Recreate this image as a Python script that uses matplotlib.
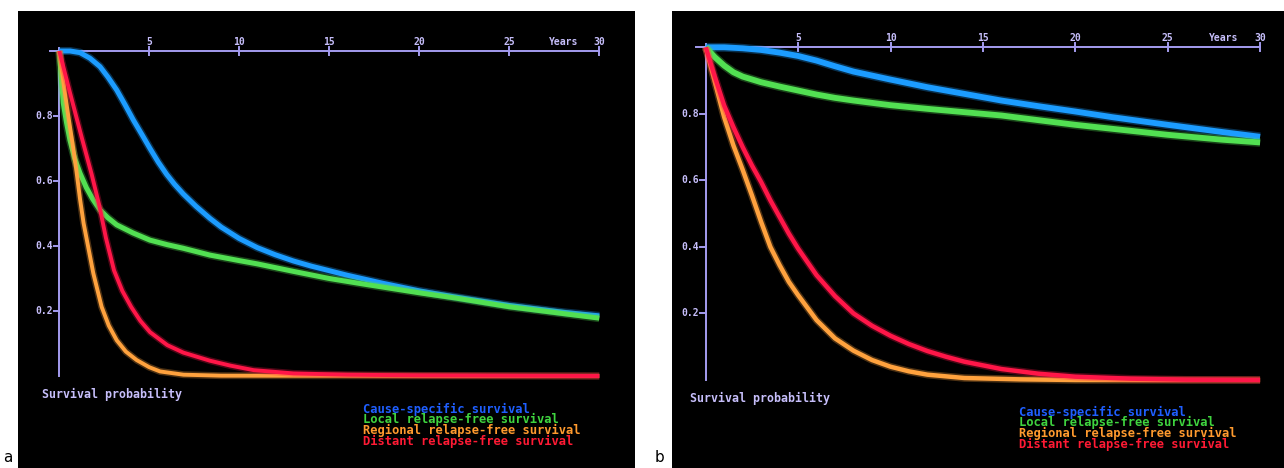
import matplotlib
matplotlib.use("Agg")
import matplotlib.pyplot as plt
import matplotlib.patheffects as pe

# ---------------- data ----------------
years_ticks = [5, 10, 15, 20, 25, 30]
y_ticks = [0.2, 0.4, 0.6, 0.8]
y_tick_labels = ["0.2", "0.4", "0.6", "0.8"]

series_names = ["Cause-specific survival", "Local relapse-free survival",
                "Regional relapse-free survival", "Distant relapse-free survival"]

# Panel a
a_blue_t = [0, 0.6, 1.15, 1.7, 2.26, 2.7, 3.19, 3.65, 4.11, 4.6, 5.04, 5.5, 5.97, 6.4, 6.89, 7.6, 8.37,
            9, 10, 11, 12, 13, 14, 16, 18, 20, 22, 25, 28, 30]
a_blue_v = [1.0, 1.0, 0.995, 0.978, 0.952, 0.92, 0.88, 0.835, 0.788, 0.742, 0.70, 0.658, 0.62, 0.59,
            0.56, 0.522, 0.485, 0.458, 0.423, 0.395, 0.373, 0.354, 0.338, 0.31, 0.285, 0.262, 0.243,
            0.217, 0.196, 0.185]
a_green_t = [0, 0.22, 0.4, 0.59, 0.85, 1.15, 1.5, 1.85, 2.26, 2.7, 3.19, 4.1, 5.04, 6, 6.89, 8.37, 10,
             11, 13, 15, 17, 20, 22, 25, 28, 30]
a_green_v = [1.0, 0.84, 0.78, 0.726, 0.67, 0.624, 0.58, 0.545, 0.511, 0.487, 0.465, 0.44, 0.418, 0.404,
             0.393, 0.372, 0.355, 0.345, 0.322, 0.30, 0.282, 0.256, 0.24, 0.213, 0.192, 0.178]
a_orange_t = [0, 0.25, 0.5, 0.75, 0.93, 1.15, 1.35, 1.56, 1.89, 2.35, 2.75, 3.19, 3.7, 4.3, 5.0, 5.6,
              6.9, 9, 30]
a_orange_v = [1.0, 0.895, 0.80, 0.71, 0.64, 0.545, 0.47, 0.41, 0.316, 0.213, 0.155, 0.11, 0.075, 0.049,
              0.027, 0.014, 0.004, 0.001, 0.0]
a_red_t = [0, 0.6, 1.24, 1.8, 2.22, 2.59, 3.04, 3.5, 4.0, 4.5, 5.04, 6.0, 6.89, 8.37, 9.5, 10.8, 13,
           16, 20, 25, 30]
a_red_v = [1.0, 0.87, 0.735, 0.62, 0.525, 0.425, 0.325, 0.262, 0.212, 0.17, 0.135, 0.095, 0.072, 0.047,
           0.032, 0.018, 0.008, 0.004, 0.002, 0.001, 0.0]

# Panel b
b_blue_t = [0, 1, 2, 3, 4, 5, 6, 7, 8, 9, 10, 12, 14, 16, 18, 20, 22, 25, 28, 30]
b_blue_v = [1.0, 1.0, 0.997, 0.992, 0.984, 0.974, 0.96, 0.943, 0.927, 0.915, 0.903, 0.88, 0.86, 0.84,
            0.823, 0.807, 0.79, 0.767, 0.745, 0.731]
b_green_t = [0, 0.5, 1, 1.5, 2, 3, 4, 5, 6, 7, 8, 10, 12, 14, 16, 18, 20, 22, 25, 28, 30]
b_green_v = [1.0, 0.97, 0.945, 0.925, 0.912, 0.895, 0.882, 0.87, 0.858, 0.848, 0.84, 0.826, 0.815, 0.805,
             0.795, 0.781, 0.767, 0.755, 0.737, 0.722, 0.714]
b_orange_t = [0, 0.5, 1, 1.5, 2, 2.5, 3, 3.5, 4, 4.5, 5, 6, 7, 8, 9, 10, 11, 12, 14, 17, 20, 30]
b_orange_v = [1.0, 0.895, 0.79, 0.705, 0.632, 0.555, 0.475, 0.40, 0.345, 0.295, 0.255, 0.18, 0.125,
              0.088, 0.06, 0.04, 0.026, 0.016, 0.006, 0.002, 0.0, 0.0]
b_red_t = [0, 0.5, 1, 1.5, 2, 2.5, 3, 3.5, 4, 4.5, 5, 6, 7, 8, 9, 10, 11, 12, 13, 14, 16, 18, 20, 23,
           26, 30]
b_red_v = [1.0, 0.91, 0.825, 0.76, 0.70, 0.645, 0.595, 0.54, 0.49, 0.44, 0.395, 0.315, 0.252, 0.20,
           0.163, 0.133, 0.108, 0.087, 0.07, 0.055, 0.033, 0.019, 0.01, 0.004, 0.001, 0.0]

# ---------------- style ----------------
line_colors = ["#1c9cff", "#52e052", "#ffa23e", "#ff1648"]
legend_colors = ["#1f5fff", "#3fd43f", "#ff9a2e", "#ff1a34"]
axis_color = "#a49cf0"
text_color = "#c6befa"
mono = "DejaVu Sans Mono"

fig = plt.figure(figsize=(12.84, 4.68), dpi=100, facecolor="white")


def setup(ax, xlim, ylim):
    ax.set_facecolor("black")
    for s in ax.spines.values():
        s.set_visible(False)
    ax.set_xticks([])
    ax.set_yticks([])
    ax.set_xlim(*xlim)
    ax.set_ylim(*ylim)


def draw_panel(ax, data, lws, tick_dx, tick_dy, legend_xy, legend_dy, surv_xy):
    # axes
    ax.plot([-0.5, 30], [1.0, 1.0], color=axis_color, lw=1.4, zorder=2)
    ax.plot([0, 0], [0.0, 1.01], color=axis_color, lw=1.4, zorder=2)
    for t in years_ticks:
        ax.plot([t, t], [1.0 - tick_dy, 1.0 + tick_dy], color=axis_color, lw=1.4, zorder=2)
        ax.text(t, 1.027, str(t), color=text_color, fontsize=7, family=mono,
                fontweight="bold", ha="center", va="center", zorder=5)
    ax.text(28.0, 1.027, "Years", color=text_color, fontsize=7, family=mono,
            fontweight="bold", ha="center", va="center", zorder=5)
    for v, lab in zip(y_ticks, y_tick_labels):
        ax.plot([-tick_dx, 0], [v, v], color=axis_color, lw=1.4, zorder=2)
        ax.text(-tick_dx - 0.05, v, lab, color=text_color, fontsize=7, family=mono,
                fontweight="bold", ha="right", va="center", zorder=5)
    # curves
    for (t, v), c, lw in zip(data, line_colors, lws):
        ax.plot(t, v, color=c, lw=lw, solid_capstyle="butt", solid_joinstyle="round", zorder=3,
                path_effects=[pe.Stroke(linewidth=lw + 2.2, foreground=c, alpha=0.3), pe.Normal()])
    # labels
    ax.text(surv_xy[0], surv_xy[1], "Survival probability", color=text_color, fontsize=8.4,
            family=mono, fontweight="bold", ha="left", va="center")
    for i, (name, c) in enumerate(zip(series_names, legend_colors)):
        ax.text(legend_xy[0], legend_xy[1] - i * legend_dy, name, color=c, fontsize=8.7,
                family=mono, fontweight="bold", ha="left", va="center")


# Panel a: pixel mapping x = 59.3 + 18.0 t, y = 376 - 325 v
ax_a = fig.add_axes([18 / 1284, 0, (635 - 18) / 1284, 457 / 468])
setup(ax_a, ((18 - 59.3) / 18.0, (635 - 59.3) / 18.0), ((376 - 468) / 325, (376 - 11) / 325))
draw_panel(ax_a,
           [(a_blue_t, a_blue_v), (a_green_t, a_green_v), (a_orange_t, a_orange_v), (a_red_t, a_red_v)],
           [3.6, 3.6, 2.8, 2.8], 0.3, 0.012,
           ((363 - 59.3) / 18.0, (376 - 409) / 325), 10.8 / 325, ((42 - 59.3) / 18.0, (376 - 394) / 325))

# Panel b: pixel mapping x = 705.7 + 18.48 t, y = 380 - 332.7 v
ax_b = fig.add_axes([672 / 1284, 0, 612 / 1284, 457 / 468])
setup(ax_b, ((672 - 705.7) / 18.48, (1284 - 705.7) / 18.48), ((380 - 468) / 332.7, (380 - 11) / 332.7))
draw_panel(ax_b,
           [(b_blue_t, b_blue_v), (b_green_t, b_green_v), (b_orange_t, b_orange_v), (b_red_t, b_red_v)],
           [4.2, 4.2, 3.2, 3.2], 0.3, 0.012,
           ((1019 - 705.7) / 18.48, (380 - 412) / 332.7), 10.8 / 332.7, ((690 - 705.7) / 18.48, (380 - 398) / 332.7))

fig.text(8 / 1284, 1 - 458 / 468, "a", color="black", fontsize=11, ha="center", va="center")
fig.text(659 / 1284, 1 - 458 / 468, "b", color="black", fontsize=11, ha="center", va="center")

fig.savefig("out.png", dpi=100, facecolor="white")
